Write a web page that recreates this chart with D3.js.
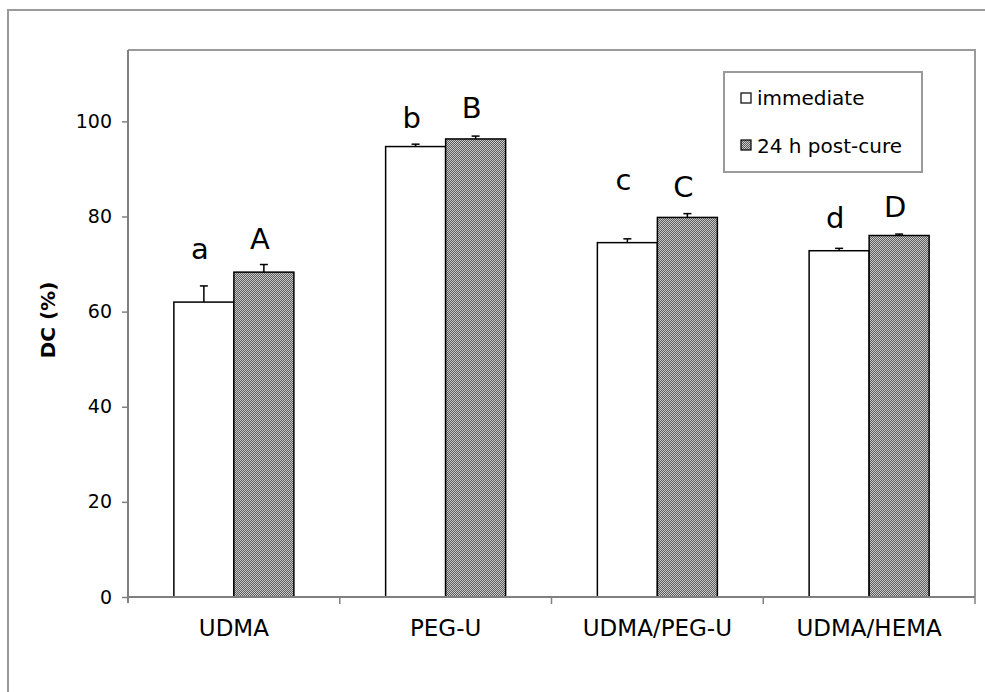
<!DOCTYPE html>
<html><head><meta charset="utf-8">
<script src="https://cdn.jsdelivr.net/npm/d3@7"></script>
<style>body{margin:0;background:#fff}svg{display:block}text{font-family:"DejaVu Sans",sans-serif}</style>
</head><body><svg id="c" width="985" height="692"></svg>
<script>
const categories = ["UDMA", "PEG-U", "UDMA/PEG-U", "UDMA/HEMA"];
const seriesNames = ["immediate", "24 h post-cure"];
const immediate = [62.0, 94.7, 74.5, 72.8];
const immediateErr = [3.4, 0.5, 0.8, 0.5];
const postCure = [68.3, 96.3, 79.8, 76.0];
const postCureErr = [1.6, 0.6, 0.8, 0.3];
const immediateLetters = ["a", "b", "c", "d"];
const postCureLetters = ["A", "B", "C", "D"];
const immediateLetterAt = [71.0, 98.5, 85.5, 77.5];
const postCureLetterAt = [73.1, 100.6, 84.0, 79.8];
const yTicks = [0, 20, 40, 60, 80, 100];

const svg = d3.select("#c");
const defs = svg.append("defs");
const pat = defs.append("pattern").attr("id","hatch").attr("patternUnits","userSpaceOnUse").attr("width",2).attr("height",2);
pat.append("rect").attr("width",2).attr("height",2).attr("fill","#5e5e5e");
pat.append("rect").attr("x",0).attr("y",0).attr("width",1).attr("height",1).attr("fill","#c8c8c8");
pat.append("rect").attr("x",1).attr("y",1).attr("width",1).attr("height",1).attr("fill","#c8c8c8");

// outer frame
svg.append("rect").attr("x",8).attr("y",10).attr("width",1000).attr("height",700)
  .attr("fill","none").attr("stroke","#9a9a9a").attr("stroke-width",2);

const L=128, R=975, T=50, B=597;
const x = d3.scaleBand().domain(categories).range([L,R]).padding(0);
const pairW = 120;
const x1 = d3.scaleBand().domain(seriesNames).range([0,pairW]).padding(0);
const y = d3.scaleLinear().domain([0,115]).range([B,T]);

// plot area frame (top/right)
svg.append("path").attr("d",`M${L},${T}H${R}V${B}`).attr("fill","none").attr("stroke","#9a9a9a").attr("stroke-width",2);

const rows = categories.map((c,i)=>({c, vals:[
  {s:seriesNames[0], v:immediate[i], e:immediateErr[i], l:immediateLetters[i], la:immediateLetterAt[i]},
  {s:seriesNames[1], v:postCure[i], e:postCureErr[i], l:postCureLetters[i], la:postCureLetterAt[i]}]}));

const off = (x.bandwidth()-pairW)/2;
const g = svg.append("g");
rows.forEach(r=>{
  r.vals.forEach((d,j)=>{
    const bx = x(r.c)+off+x1(d.s);
    const bw = x1.bandwidth();
    g.append("rect").attr("x",bx).attr("y",y(d.v)).attr("width",bw).attr("height",y(0)-y(d.v))
      .attr("fill", j===0?"#fff":"url(#hatch)").attr("stroke","#000").attr("stroke-width",1.5);
    const cx = bx+bw/2;
    g.append("line").attr("x1",cx).attr("x2",cx).attr("y1",y(d.v)).attr("y2",y(d.v+d.e)).attr("stroke","#000").attr("stroke-width",1.5);
    g.append("line").attr("x1",cx-4).attr("x2",cx+4).attr("y1",y(d.v+d.e)).attr("y2",y(d.v+d.e)).attr("stroke","#000").attr("stroke-width",1.5);
    g.append("text").attr("x",cx-4).attr("y",y(d.la)).attr("text-anchor","middle").attr("font-size",29).attr("fill","#000").text(d.l);
  });
});

// y axis
const ya = svg.append("g").attr("transform",`translate(${L},0)`)
  .call(d3.axisLeft(y).tickValues(yTicks).tickSize(6).tickPadding(10));
ya.select(".domain").attr("d",`M0,${T}V${B+6}`).attr("stroke","#808080").attr("stroke-width",2);
ya.selectAll(".tick line").attr("stroke","#808080").attr("stroke-width",1.5);
ya.selectAll(".tick text").attr("font-size",19).attr("fill","#000").attr("font-family","DejaVu Sans");

// x axis
const xa = svg.append("g").attr("transform",`translate(0,${B})`)
  .call(d3.axisBottom(x).tickSize(0).tickPadding(23));
xa.select(".domain").attr("d",`M${L},0H${R}`).attr("stroke","#808080").attr("stroke-width",2);
xa.selectAll(".tick text").attr("font-size",23).attr("fill","#000").attr("font-family","DejaVu Sans");
// boundary ticks
svg.append("g").selectAll("line").data(categories.slice(1).concat(["__end"])).join("line")
  .attr("x1",d=>d==="__end"?R:x(d)).attr("x2",d=>d==="__end"?R:x(d))
  .attr("y1",B).attr("y2",B+7).attr("stroke","#808080").attr("stroke-width",1.5);

// y label
svg.append("text").attr("transform","translate(55,320) rotate(-90)").attr("text-anchor","middle")
  .attr("font-size",20).attr("font-weight","bold").attr("fill","#000").text("DC (%)");

// legend
const lg = svg.append("g");
lg.append("rect").attr("x",724).attr("y",72).attr("width",198).attr("height",100).attr("fill","#fff").attr("stroke","#9a9a9a").attr("stroke-width",2);
seriesNames.forEach((s,i)=>{
  lg.append("rect").attr("x",741).attr("y",93+i*47).attr("width",10).attr("height",10)
    .attr("fill", i===0?"#fff":"url(#hatch)").attr("stroke","#000").attr("stroke-width",1.2);
  lg.append("text").attr("x",757).attr("y",105+i*48).attr("font-size",20).attr("fill","#000").text(s);
});
</script></body></html>
